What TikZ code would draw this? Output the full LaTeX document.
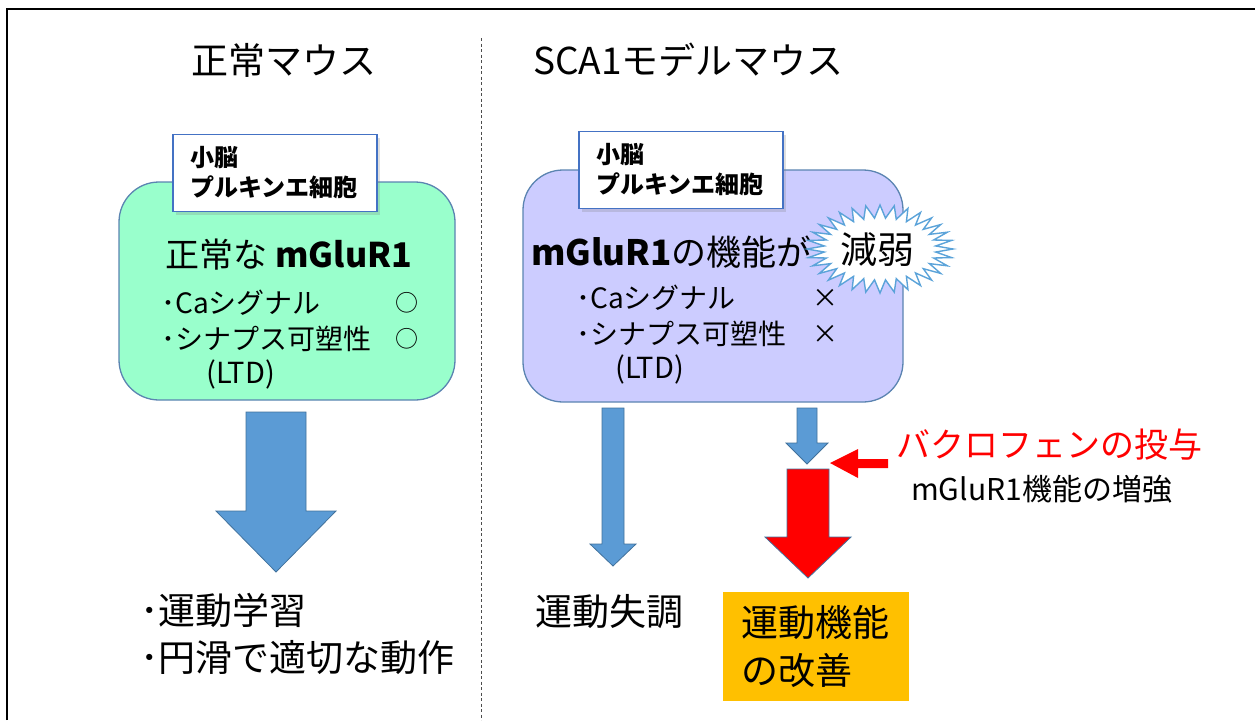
\documentclass[tikz,border=0pt]{standalone}
\usepackage{fontspec}
\setmainfont{Noto Sans CJK JP}
\usetikzlibrary{shadows}
\definecolor{mint}{HTML}{99FFCC}
\definecolor{lav}{HTML}{CCCCFF}
\definecolor{boxline}{HTML}{5B84B1}
\definecolor{lblline}{HTML}{4472C4}
\definecolor{arrblue}{HTML}{5B9BD5}
\definecolor{arredge}{HTML}{41719C}
\definecolor{burstline}{HTML}{5BA3D9}
\definecolor{orng}{HTML}{FFC000}
\definecolor{redd}{HTML}{FF0000}
\newcommand{\fs}[1]{\fontsize{#1}{#1}\selectfont}
\begin{document}
\begin{tikzpicture}[x=1pt,y=-1pt,
  cellbox/.style={draw=boxline,line width=1.3pt,rounded corners=40pt,inner sep=0pt},
  lblbox/.style={draw=lblline,line width=1.6pt,fill=white,inner xsep=17pt,inner ysep=0pt,
     text width=170pt,minimum height=77pt,align=left,font=\bfseries\fontsize{24}{30}\selectfont,
     drop shadow={shadow xshift=3pt,shadow yshift=-3pt,opacity=0.25}},
  txt/.style={inner sep=0pt,anchor=west},
  blockarrow/.style={fill=arrblue,draw=arredge,line width=0.8pt,line join=miter},
  redarrow/.style={fill=redd,draw=arredge,line width=0.8pt,line join=miter}]
\useasboundingbox (0,0) rectangle (1255,720);
% frame
\draw[line width=2.5pt] (7,720) -- (7,9) -- (1255,9);
\draw[dashed,dash pattern=on 3pt off 2.5pt,line width=0.8pt,black!70] (481,38) -- (481,720);
% titles
\node[inner sep=0pt,font=\fs{37}] (t1) at (284,60) {正常マウス};
\node[txt,font=\fs{37}] (t2) at (533,60) {SCA1モデルマウス};
% left cell
\node[cellbox,fill=mint,minimum width=336pt,minimum height=218pt] (cellL) at (287,291) {};
\node[lblbox] (lblL) at (275,173) {小脳\\プルキンエ細胞};
\node[inner sep=0pt,font=\fs{34}] (mgL) at (289,255) {正常な \textbf{mGluR1}};
\node[txt,font=\fs{28}] (caL) at (161,303) {･Caシグナル};
\node[inner sep=0pt,font=\fs{23}] (okL1) at (407,303) {○};
\node[txt,font=\fs{28}] (syL) at (161,339) {･シナプス可塑性};
\node[inner sep=0pt,font=\fs{23}] (okL2) at (407,339) {○};
\node[txt,font=\fs{29}] (ltdL) at (206,374) {(LTD)};
% right cell
\node[cellbox,fill=lav,minimum width=380pt,minimum height=232pt] (cellR) at (713,286) {};
\node[lblbox] (lblR) at (681,170) {小脳\\プルキンエ細胞};
\node[txt,font=\fs{35}] (mgR) at (531,252) {\textbf{mGluR1}の機能が};
\draw[fill=white,draw=burstline,line width=1.4pt,line join=miter]
  (953,249) \foreach \k in {0,...,31} {
    -- ({880+73*cos(\k*360/32)},{249+44*sin(\k*360/32)})
    -- ({880+56*cos((\k+0.5)*360/32)},{249+31*sin((\k+0.5)*360/32)}) } -- cycle;
\node[inner sep=0pt,font=\fs{37}] (gen) at (877,250) {減弱};
\node[txt,font=\fs{28}] (caR) at (576,298) {･Caシグナル};
\node[inner sep=0pt,font=\fs{26}] (ngR1) at (825,298) {×};
\node[txt,font=\fs{28}] (syR) at (576,334) {･シナプス可塑性};
\node[inner sep=0pt,font=\fs{26}] (ngR2) at (825,334) {×};
\node[txt,font=\fs{29}] (ltdR) at (615,369) {(LTD)};
% arrows
\draw[blockarrow] (246,412) -- (306,412) -- (306,511) -- (336,511) -- (276,572) -- (216,511) -- (246,511) -- cycle;
\draw[blockarrow] (602,408) -- (624,408) -- (624,544) -- (636,544) -- (613,566) -- (590,544) -- (602,544) -- cycle;
\draw[blockarrow] (797,408) -- (817,408) -- (817,443) -- (828,443) -- (807,464) -- (786,443) -- (797,443) -- cycle;
\draw[redarrow] (787,469) -- (829,469) -- (829,537) -- (851,537) -- (808,578) -- (765,537) -- (787,537) -- cycle;
\fill[redd] (830,463) -- (858,449) -- (858,459) -- (888,459) -- (888,468) -- (858,468) -- (858,478) -- cycle;
\node[txt,font=\fs{34},text=redd] (bac) at (896,445) {バクロフェンの投与};
\node[txt,font=\fs{30}] (enh) at (911,489) {mGluR1機能の増強};
% outcomes
\node[txt,font=\fs{37}] (o1) at (140,610) {･運動学習};
\node[txt,font=\fs{37}] (o2) at (140,658) {･円滑で適切な動作};
\node[txt,font=\fs{37}] (o3) at (535,612) {運動失調};
\node[fill=orng,inner xsep=18pt,inner ysep=0pt,text width=150pt,minimum height=109pt,align=left,font=\fontsize{37}{48}\selectfont] (o4) at (816,646.5) {運動機能\\の改善};
\end{tikzpicture}
\end{document}
